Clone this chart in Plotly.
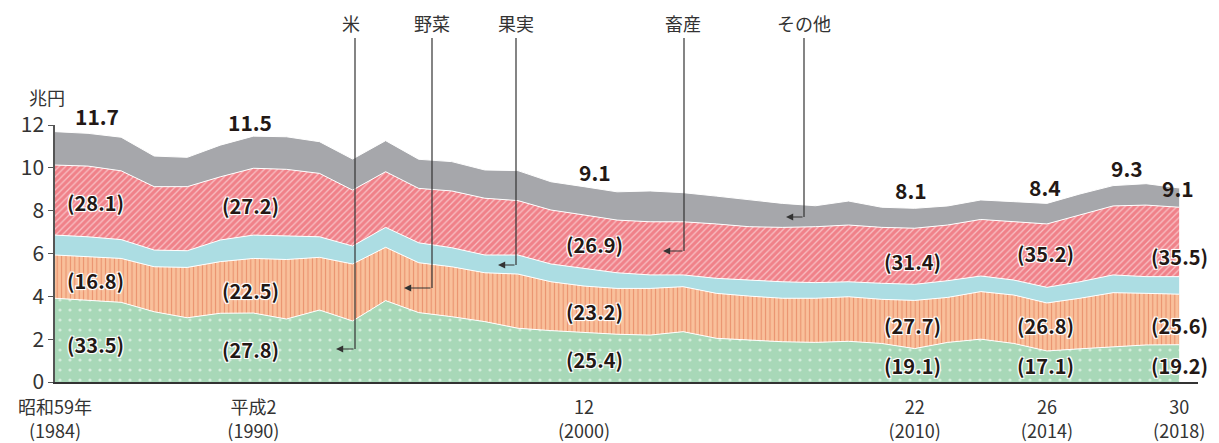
import plotly.graph_objects as go

# ---------------- data (兆円) ----------------
years = list(range(1984, 2019))
rice = [3.91, 3.83, 3.72, 3.28, 3.00, 3.21, 3.22, 2.94, 3.36, 2.85, 3.80, 3.24,
        3.05, 2.82, 2.51, 2.40, 2.32, 2.23, 2.19, 2.35, 2.04, 1.96, 1.88, 1.85,
        1.90, 1.80, 1.56, 1.85, 2.00, 1.80, 1.45, 1.55, 1.65, 1.73, 1.74]
vegetables = [2.02, 2.02, 2.05, 2.10, 2.35, 2.41, 2.55, 2.78, 2.46, 2.66, 2.49, 2.33,
              2.33, 2.28, 2.53, 2.28, 2.16, 2.14, 2.18, 2.10, 2.10, 2.05, 2.03, 2.06,
              2.08, 2.06, 2.25, 2.10, 2.22, 2.26, 2.24, 2.36, 2.52, 2.41, 2.36]
fruit = [0.93, 0.93, 0.88, 0.78, 0.78, 1.01, 1.09, 1.10, 0.96, 0.84, 0.93, 0.93,
         0.89, 0.83, 0.89, 0.83, 0.83, 0.73, 0.63, 0.55, 0.70, 0.75, 0.77, 0.73,
         0.70, 0.75, 0.75, 0.78, 0.73, 0.70, 0.73, 0.77, 0.83, 0.78, 0.82]
livestock = [3.27, 3.30, 3.21, 2.96, 2.99, 2.95, 3.12, 3.11, 2.96, 2.61, 2.60, 2.54,
             2.65, 2.65, 2.54, 2.52, 2.49, 2.46, 2.48, 2.48, 2.54, 2.49, 2.54, 2.61,
             2.65, 2.61, 2.62, 2.60, 2.64, 2.72, 2.96, 3.12, 3.22, 3.34, 3.24]
other = [1.56, 1.53, 1.57, 1.43, 1.37, 1.48, 1.50, 1.52, 1.48, 1.45, 1.45, 1.36,
         1.37, 1.32, 1.40, 1.32, 1.32, 1.32, 1.44, 1.36, 1.30, 1.25, 1.12, 0.98,
         1.12, 0.94, 0.93, 0.89, 0.91, 0.94, 0.96, 0.98, 0.95, 1.00, 0.90]

series_names = ["米", "野菜", "果実", "畜産", "その他"]

tick_years = [1984, 1990, 2000, 2010, 2014, 2018]
tick_text = ["昭和59年<br>(1984)", "平成2<br>(1990)", "12<br>(2000)",
             "22<br>(2010)", "26<br>(2014)", "30<br>(2018)"]

# total labels: (year position, value position, text)
total_labels = [(1985.27, 12.42, "11.7"), (1989.9, 12.14, "11.5"), (2000.33, 9.80, "9.1"),
                (2009.89, 8.96, "8.1"), (2013.95, 9.10, "8.4"), (2016.43, 9.99, "9.3"),
                (2017.97, 9.06, "9.1")]

# share labels (%)
share_years = [1985.21, 1989.9, 2000.33, 2009.95, 2013.95, 2018.0]
share_livestock = ["28.1", "27.2", "26.9", "31.4", "35.2", "35.5"]
share_veg = ["16.8", "22.5", "23.2", "27.7", "26.8", "25.6"]
share_rice = ["33.5", "27.8", "25.4", "19.1", "17.1", "19.2"]
share_y_live = [8.36, 8.22, 6.44, 5.65, 5.98, 5.88]
share_y_veg = [4.76, 4.25, 3.31, 2.66, 2.66, 2.66]
share_y_rice = [1.73, 1.54, 1.07, 0.75, 0.75, 0.75]

# ---------------- figure ----------------
W, H = 1219, 443
L, R, T, B = 55, 21, 125, 61
PW, PH = W - L - R, H - T - B
X0, X1 = 1984, 2018.57
Y0, Y1 = 0, 12

FONT = "Noto Sans CJK JP, Noto Sans, sans-serif"
DARK = "#231815"

styles = [
    dict(fillcolor="#a8d8b8", fillpattern=dict(shape=".", bgcolor="#a8d8b8", fgcolor="white",
                                               size=10, solidity=0.08)),
    dict(fillcolor="#f9c09b", fillpattern=dict(shape="|", bgcolor="#f9c09b", fgcolor="#d9623f",
                                               size=4.4, solidity=0.25)),
    dict(fillcolor="#acdde3"),
    dict(fillcolor="#f08189", fillpattern=dict(shape="/", bgcolor="#f08189", fgcolor="white",
                                               size=4.6, solidity=0.28)),
    dict(fillcolor="#a6a7ab"),
]

fig = go.Figure()
for name, vals, st in zip(series_names, [rice, vegetables, fruit, livestock, other], styles):
    fig.add_trace(go.Scatter(
        x=years, y=vals, name=name, mode="lines", stackgroup="one",
        line=dict(color="white", width=1), hoverinfo="skip", **st))


def px2paper(px, py):
    return (px - L) / PW, (H - B - py) / PH


def data2paper(x, y):
    return (x - X0) / (X1 - X0), (y - Y0) / (Y1 - Y0)


ann = []
halo = "1px 1px 0 white, -1px -1px 0 white, 1px -1px 0 white, -1px 1px 0 white, 0 0 3px white"
for x, y, t in total_labels:
    px_, py_ = data2paper(x, y)
    ann.append(dict(x=px_, y=py_, xref="paper", yref="paper", xanchor="center", yanchor="middle",
                    text=t, showarrow=False,
                    font=dict(family=FONT, size=21, color=DARK, weight="bold")))
for i, x in enumerate(share_years):
    for txt, yy in ((share_livestock[i], share_y_live[i]), (share_veg[i], share_y_veg[i]),
                    (share_rice[i], share_y_rice[i])):
        ann.append(dict(x=x, y=yy, xref="x", yref="y", text=f"({txt})", showarrow=False,
                        xanchor="center", yanchor="middle",
                        font=dict(family=FONT, size=20, color=DARK, weight="bold", shadow=halo)))

# unit label
ux, uy = px2paper(47, 97)
ann.append(dict(x=ux, y=uy, xref="paper", yref="paper", text="兆円", showarrow=False,
                xanchor="center", yanchor="middle",
                font=dict(family=FONT, size=18, color="#333")))

# callouts: (label, label center x, vertical x, horizontal y, arrow tip x)
callouts = [("米", 351, 355, 349, 336), ("野菜", 432, 432, 288, 404),
            ("果実", 516, 516, 265, 498), ("畜産", 683, 684, 251, 663),
            ("その他", 804, 804, 217, 786)]
shapes = []
for name, lx, vx, hy, tip in callouts:
    tx, ty = px2paper(lx, 23)
    ann.append(dict(x=tx, y=ty, xref="paper", yref="paper", text=name, showarrow=False,
                    xanchor="center", yanchor="middle",
                    font=dict(family=FONT, size=18, color="#333")))
    x0, y0 = px2paper(vx, 38)
    x1, y1 = px2paper(vx, hy)
    shapes.append(dict(type="line", xref="paper", yref="paper", x0=x0, y0=y0, x1=x1, y1=y1,
                       line=dict(color="#333", width=1.2)))
    ax_, ay_ = px2paper(tip, hy)
    ann.append(dict(x=ax_, y=ay_, xref="paper", yref="paper", text="", showarrow=True,
                    ax=vx - tip, ay=0, arrowhead=2, arrowsize=1.2, arrowwidth=1.2,
                    arrowcolor="#333", standoff=0, startstandoff=0))

fig.update_layout(
    width=W, height=H, margin=dict(l=L, r=R, t=T, b=B, autoexpand=False),
    paper_bgcolor="white", plot_bgcolor="white", showlegend=False,
    font=dict(family=FONT, color="#333"),
    annotations=ann, shapes=shapes,
    xaxis=dict(range=[X0, X1], showgrid=False, zeroline=False, showline=True,
               linecolor="#333", linewidth=1.5, ticks="", tickvals=tick_years,
               ticktext=tick_text, ticklabelstandoff=9, automargin=False,
               tickfont=dict(family=FONT, size=18, color="#333")),
    yaxis=dict(range=[Y0, Y1], dtick=2, showgrid=False, zeroline=False, showline=True,
               linecolor="#555", linewidth=1.5, ticks="outside", ticklen=5, tickcolor="#555",
               automargin=False, tickfont=dict(family=FONT, size=21, color="#333")),
)

fig.write_html("out.html")
